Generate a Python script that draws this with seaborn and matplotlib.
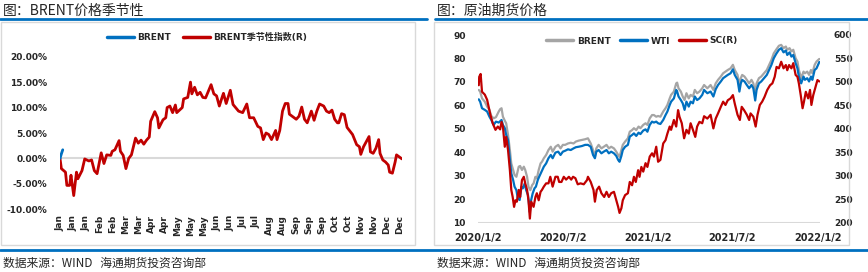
import numpy as np
import pandas as pd
import matplotlib
matplotlib.use("Agg")
import matplotlib.pyplot as plt
import matplotlib.dates as mdates
from matplotlib.lines import Line2D
from matplotlib.patches import Rectangle
import seaborn as sns

# ---------------- data: left chart (seasonality, % ) ----------------
season_day = [0, 1, 4, 5, 7, 8, 10, 12, 13, 16, 18, 21, 23, 25, 27, 30, 32, 34, 37, 38,
              40, 43, 44, 46, 48, 50, 52, 55, 57, 59, 61, 63, 65, 66, 69, 71, 72, 75, 77, 78,
              80, 82, 84, 85, 89, 90, 93, 95, 96, 98, 100, 102, 104, 106, 110, 112, 114, 116, 118, 119,
              121, 124, 126, 130, 133, 136, 138, 141, 144, 146, 148, 150, 152, 154, 157, 158, 160, 162, 164, 166,
              167, 169, 172, 174, 176, 178, 180, 183, 185, 187, 189, 192, 194, 196, 198, 200, 202, 203, 205, 207,
              209, 211, 213, 216, 218, 219, 221, 223, 225, 226, 228, 230, 232, 233, 235, 237, 239, 240, 242, 244,
              245, 247, 249]
season_val = [0.0, -2.0, -2.7, -5.3, -5.3, -3.3, -7.3, -2.7, -4.0, -2.4, -0.1, -0.5, -0.3, -2.4, -3.0, 1.1, -1.0, 0.7, 0.6, 1.4,
              1.7, 3.5, 1.4, 0.6, -2.0, 0.0, 0.7, 4.0, 3.0, 3.6, 2.8, 3.6, 4.2, 7.3, 9.2, 8.0, 6.0, 7.6, 8.0, 10.0,
              10.3, 9.0, 10.5, 9.0, 10.0, 11.7, 12.0, 15.0, 12.7, 14.0, 12.5, 13.0, 12.0, 11.9, 14.5, 12.7, 12.3, 10.3, 12.0, 12.8,
              10.8, 13.4, 10.6, 9.3, 9.0, 10.7, 8.0, 8.0, 6.3, 6.0, 3.7, 5.0, 4.7, 3.7, 5.5, 3.7, 5.5, 9.3, 10.8, 10.8,
              8.7, 8.3, 7.7, 8.3, 10.1, 7.7, 7.0, 9.3, 7.5, 9.3, 10.7, 10.3, 9.3, 9.0, 9.5, 7.7, 7.0, 7.0, 8.8, 8.6,
              6.1, 5.4, 4.7, 2.7, 2.3, 0.8, 2.3, 3.3, 4.3, 1.3, 1.0, 2.0, 3.7, 1.0, -0.3, -0.7, -1.3, -2.7, -2.9, -0.7,
              0.7, 0.3, -0.1]
brent_cur_day = [0, 1, 2]
brent_cur_val = [0.0, 0.9, 1.7]
month_labels = ["Jan", "Jan", "Jan", "Feb", "Feb", "Mar", "Mar", "Apr", "Apr", "May", "May", "May", "Jun", "Jun",
                "Jul", "Jul", "Aug", "Aug", "Sep", "Sep", "Sep", "Oct", "Oct", "Nov", "Nov", "Dec", "Dec"]
pct_ticks = [-10, -5, 0, 5, 10, 15, 20]

# ---------------- data: right chart (days since 2020-01-02) ----------------
brent_day = [1, 4, 8, 14, 19, 24, 28, 33, 38, 44, 47, 50, 53, 57, 60, 64, 68, 71, 75, 78,
             82, 87, 90, 94, 98, 101, 105, 108, 112, 116, 119, 123, 126, 130, 134, 137, 141, 146, 151, 156,
             160, 166, 172, 177, 182, 187, 193, 199, 205, 210, 216, 223, 230, 236, 242, 247, 251, 254, 259, 265,
             270, 276, 281, 286, 292, 297, 301, 304, 308, 311, 316, 322, 326, 331, 335, 340, 345, 349, 355, 360,
             364, 369, 374, 378, 383, 387, 392, 398, 403, 407, 412, 415, 421, 426, 428, 431, 436, 440, 444, 448,
             453, 457, 462, 466, 471, 476, 482, 486, 493, 500, 506, 511, 516, 522, 527, 532, 537, 543, 548, 552,
             558, 562, 565, 568, 573, 578, 583, 588, 592, 596, 599, 604, 609, 615, 621, 626, 631, 636, 641, 647,
             652, 657, 662, 665, 670, 674, 678, 683, 687, 690, 695, 700, 703, 708, 712, 716, 719, 724, 728, 734]
brent_px = [66.6, 65.9, 63.0, 61.6, 59.5, 58.1, 55.5, 54.5, 55.0, 57.4, 58.4, 58.8, 55.2, 53.5, 52.4, 47.4, 41.0, 35.3, 32.5, 30.4,
            29.6, 33.9, 34.2, 32.5, 33.9, 32.5, 29.6, 25.4, 23.9, 26.1, 26.8, 29.6, 28.9, 32.5, 35.3, 36.0, 37.5, 38.9, 41.0, 42.4,
            40.3, 42.4, 43.2, 41.7, 43.2, 43.2, 43.8, 44.1, 43.8, 44.6, 45.0, 45.3, 45.6, 46.0, 43.8, 41.0, 38.1, 41.7, 43.2, 41.7,
            42.4, 43.2, 41.7, 42.4, 41.7, 40.3, 38.9, 38.1, 41.0, 43.2, 44.6, 46.0, 48.8, 49.5, 50.3, 49.5, 51.0, 50.3, 51.7, 52.4,
            51.7, 54.5, 55.9, 55.9, 55.2, 55.5, 55.2, 57.4, 58.8, 60.2, 63.0, 64.5, 65.9, 69.4, 69.7, 67.3, 65.9, 63.8, 62.3, 65.2,
            63.0, 64.5, 63.8, 66.6, 65.2, 65.9, 67.3, 68.7, 67.3, 68.7, 66.6, 69.4, 70.9, 72.3, 73.7, 74.4, 75.1, 75.8, 77.3, 75.1,
            73.0, 68.7, 71.6, 73.0, 72.3, 70.9, 69.4, 70.9, 69.4, 65.2, 69.4, 71.6, 72.3, 73.7, 75.1, 77.3, 79.4, 82.2, 83.7, 85.4,
            85.8, 84.4, 85.1, 83.7, 84.4, 83.0, 83.7, 80.1, 78.7, 75.1, 71.6, 74.4, 73.7, 74.4, 73.0, 75.1, 73.7, 77.3, 78.7, 79.8]

wti_day = [1, 4, 8, 14, 19, 24, 28, 33, 38, 44, 50, 53, 57, 60, 64, 68, 71, 75, 78, 82,
           85, 89, 93, 96, 100, 103, 107, 111, 113, 117, 121, 124, 128, 131, 136, 141, 146, 151, 156, 160,
           166, 172, 177, 182, 187, 193, 199, 205, 210, 216, 223, 230, 236, 242, 247, 251, 254, 259, 265, 270,
           276, 281, 286, 292, 297, 301, 304, 308, 311, 316, 322, 326, 331, 335, 340, 345, 349, 355, 360, 364,
           369, 374, 378, 383, 387, 392, 398, 403, 407, 412, 415, 421, 426, 428, 431, 436, 440, 444, 448, 453,
           457, 462, 466, 471, 476, 482, 486, 493, 500, 506, 511, 516, 522, 527, 532, 537, 543, 548, 552, 558,
           562, 565, 568, 573, 578, 583, 588, 592, 596, 599, 604, 609, 615, 621, 626, 631, 636, 641, 647, 652,
           657, 662, 665, 670, 674, 678, 683, 687, 690, 695, 700, 703, 708, 712, 716, 719, 724, 728, 734]
wti_px = [62.6, 61.6, 58.8, 58.1, 57.4, 55.2, 53.8, 51.7, 53.1, 52.7, 53.8, 51.7, 50.3, 47.4, 45.3, 36.8, 31.1, 28.2, 25.4, 23.9,
          20.4, 19.7, 25.4, 24.7, 26.8, 23.9, 21.8, 14.5, 19.0, 22.5, 24.7, 25.4, 28.2, 29.6, 31.8, 33.9, 35.3, 37.5, 38.9, 37.5,
          39.9, 40.3, 38.9, 40.3, 40.7, 41.3, 41.0, 41.7, 42.2, 42.4, 42.7, 43.2, 43.2, 42.4, 38.9, 37.5, 40.3, 41.0, 39.6, 40.3,
          41.0, 39.6, 40.3, 39.6, 38.5, 36.8, 36.0, 38.5, 41.0, 42.4, 43.2, 46.7, 47.4, 48.1, 47.0, 48.4, 47.8, 49.3, 49.8, 48.8,
          51.7, 53.1, 52.7, 53.1, 52.4, 52.1, 53.8, 55.9, 57.4, 60.2, 61.6, 63.0, 66.6, 65.9, 63.8, 62.3, 60.9, 58.1, 61.6, 59.5,
          61.6, 60.9, 63.8, 62.3, 63.0, 64.5, 66.6, 65.2, 65.9, 63.8, 66.9, 68.7, 70.2, 71.6, 72.3, 73.0, 73.7, 75.4, 73.0, 70.9,
          65.9, 69.4, 70.9, 70.2, 68.7, 67.3, 68.7, 67.3, 62.1, 66.6, 69.4, 70.2, 71.6, 73.0, 75.1, 77.3, 80.1, 81.9, 83.7, 84.4,
          82.6, 83.4, 81.5, 82.6, 80.8, 81.5, 78.0, 75.8, 72.3, 69.4, 72.3, 70.9, 71.6, 70.2, 72.3, 70.9, 75.1, 75.8, 78.5]

sc_day = [1, 2, 5, 8, 14, 19, 26, 31, 37, 42, 47, 50, 53, 57, 60, 64, 68, 71, 74, 77,
          80, 83, 87, 90, 94, 98, 101, 105, 108, 111, 114, 119, 123, 126, 130, 134, 137, 141, 146, 151,
          155, 160, 166, 171, 174, 179, 184, 189, 195, 200, 204, 209, 214, 220, 227, 234, 236, 242, 248, 251,
          255, 260, 265, 271, 276, 281, 286, 292, 297, 301, 304, 308, 311, 316, 322, 326, 331, 335, 339, 344,
          347, 351, 355, 360, 364, 369, 374, 378, 383, 387, 392, 398, 403, 407, 412, 415, 421, 426, 430, 433,
          438, 443, 448, 453, 457, 462, 467, 471, 476, 482, 486, 493, 500, 506, 511, 516, 522, 527, 532, 537,
          543, 548, 552, 558, 563, 567, 572, 578, 583, 586, 592, 597, 601, 606, 611, 616, 622, 628, 633, 638,
          642, 647, 652, 657, 662, 665, 669, 674, 678, 683, 687, 690, 694, 698, 701, 705, 710, 714, 717, 721,
          726, 730, 734]
sc_px = [493, 511, 517, 479, 473, 462, 430, 412, 398, 405, 399, 415, 405, 362, 383, 355, 312, 270, 255, 234,
         248, 245, 270, 255, 291, 298, 284, 270, 248, 209, 245, 234, 255, 263, 248, 266, 270, 277, 284, 284,
         298, 277, 298, 298, 287, 287, 298, 292, 298, 292, 298, 295, 282, 284, 282, 291, 298, 287, 270, 245,
         270, 277, 263, 255, 266, 255, 263, 266, 248, 234, 221, 231, 248, 259, 263, 287, 280, 298, 287, 312,
         298, 319, 309, 327, 319, 341, 348, 341, 362, 330, 334, 369, 376, 390, 405, 398, 419, 405, 440, 426,
         412, 380, 398, 390, 412, 398, 383, 405, 415, 412, 427, 422, 430, 401, 422, 433, 447, 458, 451, 461,
         465, 472, 454, 430, 419, 447, 440, 430, 419, 433, 426, 405, 430, 451, 458, 468, 483, 493, 497, 511,
         532, 529, 543, 529, 536, 525, 536, 529, 540, 515, 511, 497, 472, 444, 458, 479, 465, 483, 451, 472,
         490, 504, 501]
date_labels = ["2020/1/2", "2020/7/2", "2021/1/2", "2021/7/2", "2022/1/2"]
left_ticks = [10, 20, 30, 40, 50, 60, 70, 80, 90]
right_ticks = [200, 250, 300, 350, 400, 450, 500, 550, 600]

# ---------------- styling ----------------
sns.set_theme(style="white")
plt.rcParams["font.family"] = ["DejaVu Sans", "Noto Sans CJK SC"]
RED = "#C00000"
BLUE = "#0070C0"
GRAY = "#A5A5A5"
GRID = "#D9D9D9"
W, H = 868, 272

fig = plt.figure(figsize=(W / 100, H / 100), dpi=100)


def fx(px):
    return px / W


def fy(py):
    return 1 - py / H


tick_font = dict(family=["DejaVu Sans"], weight="bold", size=6.5)
cjk = ["Noto Sans CJK SC", "DejaVu Sans"]

# frames, rules, titles
for x0, x1 in [(1, 415), (434, 849)]:
    fig.patches.append(Rectangle((fx(x0), fy(245)), fx(x1 - x0), (245 - 21.7) / H,
                                 transform=fig.transFigure, fill=False, edgecolor=GRID, lw=1.0))
fig.add_artist(Line2D([fx(0), fx(427)], [fy(18.5), fy(18.5)], color=BLUE, lw=2))
fig.add_artist(Line2D([fx(435), fx(868)], [fy(18.5), fy(18.5)], color=BLUE, lw=2))
fig.add_artist(Line2D([fx(0), fx(868)], [fy(250), fy(250)], color=BLUE, lw=2))
fig.text(fx(3), fy(11), "图：BRENT价格季节性", family=cjk, fontsize=10, va="center", ha="left")
fig.text(fx(437), fy(11), "图：原油期货价格", family=cjk, fontsize=10, va="center", ha="left")
for x0 in (3, 437):
    fig.text(fx(x0), fy(263.5), "数据来源：WIND   海通期货投资咨询部", family=cjk, fontsize=8.5,
             va="center", ha="left")

# ---------------- left chart ----------------
axL = fig.add_axes([fx(60), fy(209.3), fx(342), 152.6 / H])
axL.axhline(0, color=GRID, lw=1.5, zorder=1)
sns.lineplot(x=season_day, y=season_val, ax=axL, color=RED, lw=2.0, sort=False, estimator=None, zorder=3)
sns.lineplot(x=brent_cur_day, y=brent_cur_val, ax=axL, color=BLUE, lw=2.0, sort=False, estimator=None, zorder=4)
axL.set_xlim(0, max(season_day))
axL.set_ylim(-10, 20)
axL.set_yticks(pct_ticks)
axL.set_yticklabels([f"{v:.2f}%" for v in pct_ticks], fontdict=tick_font)
axL.set_xticks(np.linspace(0, max(season_day) * 340 / 342, len(month_labels)))
axL.set_xticklabels(month_labels, rotation=90, fontdict=tick_font, va="top")
axL.tick_params(axis="y", length=0, pad=9)
axL.tick_params(axis="x", length=0, pad=4)
axL.set_xlabel("")
axL.set_ylabel("")
for s in axL.spines.values():
    s.set_visible(False)
axL.set_facecolor("none")

leg_prop = dict(family=["DejaVu Sans", "Noto Sans CJK SC"], weight="bold", size=6.5)
fig.legend([Line2D([], [], color=BLUE, lw=2.5), Line2D([], [], color=RED, lw=2.5)],
           ["BRENT", "BRENT季节性指数(R)"], loc="center", bbox_to_anchor=(fx(207), fy(37.7)),
           ncol=2, frameon=False, prop=leg_prop, handlelength=3.0, handletextpad=0.4, columnspacing=1.3)

# ---------------- right chart ----------------
base = pd.Timestamp("2020-01-02")
to_dates = lambda d: base + pd.to_timedelta(d, unit="D")

axR = fig.add_axes([fx(478.3), fy(222.8), fx(341.7), 187.8 / H])
axR2 = axR.twinx()
axR.axhline(10, color=GRID, lw=1.5, zorder=1)
sns.lineplot(x=to_dates(brent_day), y=brent_px, ax=axR, color=GRAY, lw=1.6, sort=False, estimator=None, zorder=3)
sns.lineplot(x=to_dates(wti_day), y=wti_px, ax=axR, color=BLUE, lw=1.6, sort=False, estimator=None, zorder=4)
sns.lineplot(x=to_dates(sc_day), y=sc_px, ax=axR2, color=RED, lw=1.6, sort=False, estimator=None, zorder=5)
axR.set_xlim(base, to_dates(735.5))
axR.set_ylim(10, 90)
axR2.set_ylim(200, 600)
axR.set_yticks(left_ticks)
axR.set_yticklabels([str(v) for v in left_ticks], fontdict=tick_font)
axR2.set_yticks(right_ticks)
axR2.set_yticklabels([str(v) for v in right_ticks], fontdict=tick_font)
tick_dates = [pd.Timestamp(s.replace("/", "-")) for s in date_labels]
axR.set_xticks(tick_dates)
axR.set_xticklabels(date_labels, fontdict=dict(family=["DejaVu Sans"], weight="bold", size=7))
axR.tick_params(axis="y", length=0, pad=9)
axR2.tick_params(axis="y", length=0, pad=10)
axR.tick_params(axis="x", length=0, pad=7)
for a in (axR, axR2):
    a.set_xlabel("")
    a.set_ylabel("")
    for s in a.spines.values():
        s.set_visible(False)
    a.set_facecolor("none")
    a.grid(False)

fig.legend([Line2D([], [], color=GRAY, lw=2.5), Line2D([], [], color=BLUE, lw=2.5),
            Line2D([], [], color=RED, lw=2.5)],
           ["BRENT", "WTI", "SC(R)"], loc="center", bbox_to_anchor=(fx(642), fy(41)),
           ncol=3, frameon=False, prop=leg_prop, handlelength=3.0, handletextpad=0.4, columnspacing=1.0)

fig.savefig("out.png", dpi=100)
